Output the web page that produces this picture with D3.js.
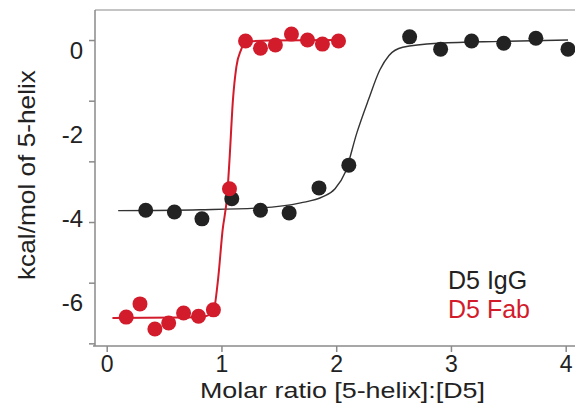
<!DOCTYPE html>
<html>
<head>
<meta charset="utf-8">
<script src="https://cdnjs.cloudflare.com/ajax/libs/d3/7.8.5/d3.min.js"></script>
<style>
    body { margin: 0; background: #fff; }
    text { font-family: "Liberation Sans", Arial, Helvetica, sans-serif; }
</style>
</head>
<body>
<svg id="itc" width="575" height="413"></svg>
<script>
// measured points, molar ratio vs kcal/mol
var iggX = [0.34, 0.59, 0.83, 1.09, 1.34, 1.59, 1.85, 2.11, 2.64, 2.91, 3.18, 3.46, 3.74, 4.02];
var iggY = [-3.74, -3.78, -3.93, -3.49, -3.74, -3.80, -3.25, -2.75, 0.07, -0.20, -0.02, -0.07, 0.04, -0.20];

var fabX = [0.17, 0.29, 0.42, 0.54, 0.67, 0.80, 0.93, 1.07, 1.21, 1.34, 1.47, 1.61, 1.75, 1.88, 2.02];
var fabY = [-6.09, -5.80, -6.35, -6.22, -6.00, -6.07, -5.93, -3.27, -0.02, -0.18, -0.11, 0.13, 0.00, -0.09, -0.02];

// fitted curves
var iggFitX = [0.10, 0.81, 1.34, 1.69, 1.88, 1.99, 2.08, 2.18, 2.28, 2.38, 2.46, 2.58, 2.90, 3.43, 4.02];
var iggFitY = [-3.75, -3.73, -3.69, -3.58, -3.45, -3.27, -2.90, -2.04, -1.32, -0.66, -0.34, -0.16, -0.07, -0.03, 0.0];

var fabFitX = [0.05, 0.64, 0.86, 0.93, 0.97, 1.01, 1.05, 1.07, 1.10, 1.13, 1.17, 1.21, 1.42, 2.02];
var fabFitY = [-6.11, -6.10, -6.07, -5.96, -5.27, -4.18, -3.41, -2.64, -1.32, -0.59, -0.22, -0.04, -0.01, 0.0];

var xTicks = [0, 1, 2, 3, 4];
var yLabels = [0, -2, -4, -6];
var yTickMarks = [0, -4 / 3, -8 / 3, -4, -16 / 3, -20 / 3];
var seriesNames = ["D5 IgG", "D5 Fab"];

var black = "#222222";
var red = "#d21b2b";
var axisCol = "#8a8a8a";

var svg = d3.select("#itc");

var x = d3.scaleLinear().domain([0, 4]).range([106.7, 565.7]);
var y = d3.scaleLinear().domain([-6.725, 0.66]).range([346, 10]);
// the printed labels sit a little off the tick marks in the original
var yLab = d3.scaleLinear().domain([0, -6]).range([50, 302]);

// frame: top rule, left and bottom axes
svg.append("line")
    .attr("x1", 95).attr("x2", 575)
    .attr("y1", 10).attr("y2", 10)
    .attr("stroke", "#b0b0b0").attr("stroke-width", 1.5);

var xAxis = svg.append("g")
    .attr("transform", "translate(0,346)")
    .call(d3.axisBottom(x).tickValues(xTicks).tickFormat(d3.format("d"))
        .tickSize(6).tickPadding(4).tickSizeOuter(0));
xAxis.select(".domain").attr("d", "M93,0H575");

var yAxis = svg.append("g")
    .attr("transform", "translate(95,0)")
    .call(d3.axisLeft(y).tickValues(yTickMarks).tickSize(6).tickFormat("").tickSizeOuter(0));
yAxis.select(".domain").attr("d", "M0,10V346");

svg.selectAll(".domain, .tick line")
    .attr("stroke", axisCol).attr("stroke-width", 1.5);

xAxis.selectAll("text")
    .attr("fill", "#222").attr("font-size", 23)
    .attr("font-family", "Liberation Sans, Arial, sans-serif");

svg.selectAll(".ylab")
    .data(yLabels)
    .enter().append("text")
    .attr("class", "ylab")
    .attr("x", 83)
    .attr("y", function (d) { return yLab(d); })
    .attr("dy", "0.36em")
    .attr("text-anchor", "end")
    .attr("font-size", 24)
    .attr("fill", "#222")
    .text(function (d) { return d === 0 ? "0" : "-" + Math.abs(d); });

// axis titles
svg.append("text")
    .attr("x", 200).attr("y", 398)
    .attr("font-size", 22)
    .attr("textLength", 285)
    .attr("lengthAdjust", "spacingAndGlyphs")
    .attr("fill", "#222")
    .text("Molar ratio [5-helix]:[D5]");

svg.append("text")
    .attr("transform", "translate(35,280) rotate(-90)")
    .attr("font-size", 24)
    .attr("textLength", 210)
    .attr("lengthAdjust", "spacingAndGlyphs")
    .attr("fill", "#222")
    .text("kcal/mol of 5-helix");

function zip(xs, ys) {
    return xs.map(function (v, i) { return [v, ys[i]]; });
}

var line = d3.line()
    .x(function (d) { return x(d[0]); })
    .y(function (d) { return y(d[1]); })
    .curve(d3.curveMonotoneX);

svg.append("path")
    .datum(zip(iggFitX, iggFitY))
    .attr("d", line)
    .attr("fill", "none")
    .attr("stroke", "#333").attr("stroke-width", 1.4);

svg.append("path")
    .datum(zip(fabFitX, fabFitY))
    .attr("d", line)
    .attr("fill", "none")
    .attr("stroke", red).attr("stroke-width", 2);

function drawPoints(pts, col) {
    svg.append("g").selectAll("circle")
        .data(pts)
        .enter().append("circle")
        .attr("cx", function (d) { return x(d[0]); })
        .attr("cy", function (d) { return y(d[1]); })
        .attr("r", 7.5)
        .attr("fill", col);
}

drawPoints(zip(iggX, iggY), black);
drawPoints(zip(fabX, fabY), red);

// legend
svg.selectAll(".legend")
    .data(seriesNames)
    .enter().append("text")
    .attr("class", "legend")
    .attr("x", 448)
    .attr("y", function (d, i) { return 289 + i * 29; })
    .attr("font-size", 25)
    .attr("fill", function (d, i) { return i === 0 ? black : red; })
    .text(function (d) { return d; });
</script>
</body>
</html>
